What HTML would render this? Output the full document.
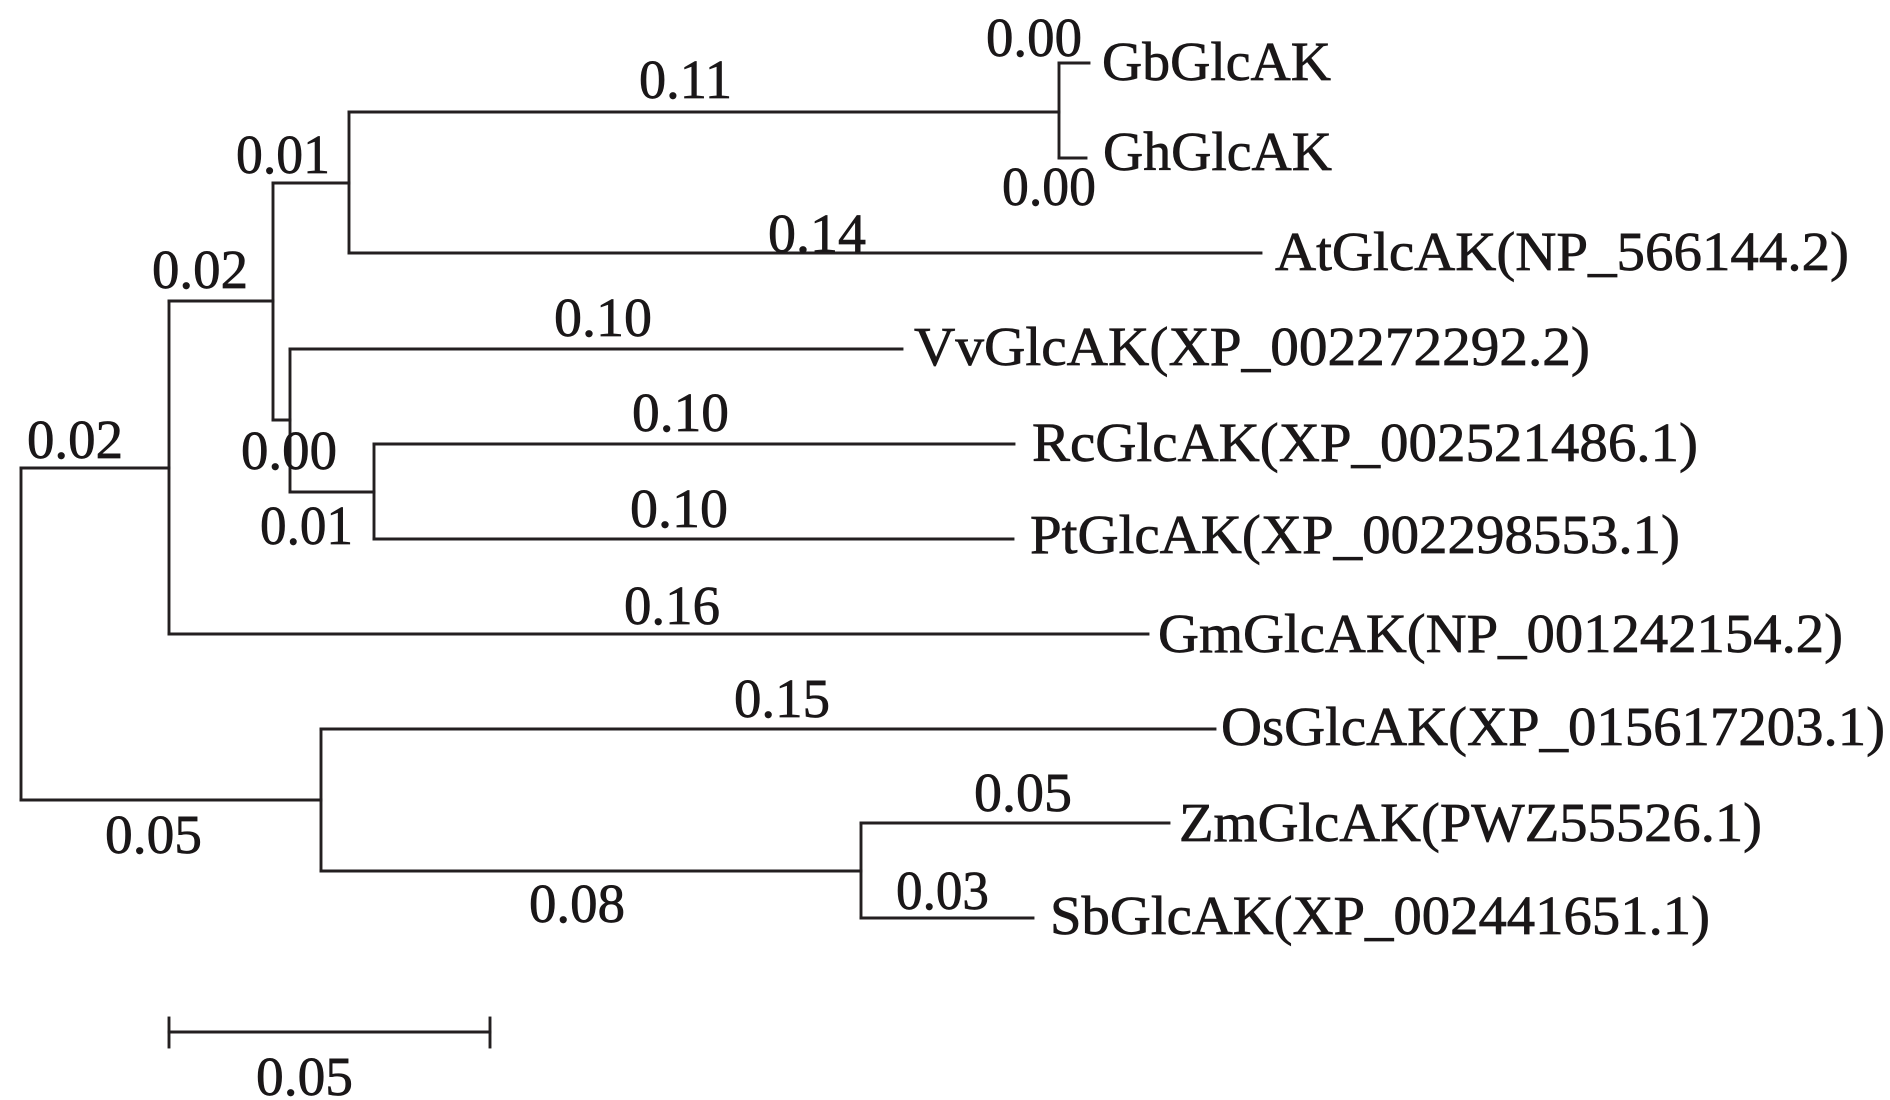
<!DOCTYPE html>
<html>
<head>
<meta charset="utf-8">
<style>
html,body{margin:0;padding:0;background:#fff;}
svg{display:block;}
text{font-family:"Liberation Serif","Times New Roman",serif;font-size:55px;fill:#1a1718;stroke:#1a1718;stroke-width:0.7px;}
</style>
</head>
<body>
<svg width="1890" height="1100" viewBox="0 0 1890 1100" xmlns="http://www.w3.org/2000/svg">
<g stroke="#231f20" stroke-width="2.9" fill="none" stroke-linecap="square">
  <!-- root -->
  <line x1="21" y1="468" x2="21" y2="800"/>
  <line x1="21" y1="468" x2="169" y2="468"/>
  <line x1="21" y1="800" x2="321" y2="800"/>
  <!-- node A -->
  <line x1="169" y1="301" x2="169" y2="634"/>
  <line x1="169" y1="301" x2="273" y2="301"/>
  <line x1="169" y1="634" x2="1148" y2="634"/>
  <!-- node B -->
  <line x1="273" y1="183" x2="273" y2="420"/>
  <line x1="273" y1="183" x2="349" y2="183"/>
  <line x1="273" y1="420" x2="290" y2="420"/>
  <!-- node C -->
  <line x1="349" y1="112" x2="349" y2="253"/>
  <line x1="349" y1="112" x2="1059" y2="112"/>
  <line x1="349" y1="253" x2="1261" y2="253"/>
  <!-- node D Gb/Gh -->
  <line x1="1059" y1="63" x2="1059" y2="158"/>
  <line x1="1059" y1="63" x2="1089" y2="63"/>
  <line x1="1059" y1="158" x2="1086" y2="158"/>
  <!-- node E -->
  <line x1="290" y1="349" x2="290" y2="492"/>
  <line x1="290" y1="349" x2="902" y2="349"/>
  <line x1="290" y1="492" x2="374" y2="492"/>
  <!-- node F -->
  <line x1="374" y1="444" x2="374" y2="539"/>
  <line x1="374" y1="444" x2="1014" y2="444"/>
  <line x1="374" y1="539" x2="1013" y2="539"/>
  <!-- node G -->
  <line x1="321" y1="729" x2="321" y2="871"/>
  <line x1="321" y1="729" x2="1215" y2="729"/>
  <line x1="321" y1="871" x2="861" y2="871"/>
  <!-- node H -->
  <line x1="861" y1="823" x2="861" y2="918"/>
  <line x1="861" y1="823" x2="1169" y2="823"/>
  <line x1="861" y1="918" x2="1033" y2="918"/>
  <!-- scale bar -->
  <line x1="169" y1="1032" x2="490" y2="1032"/>
  <line x1="169" y1="1018" x2="169" y2="1047"/>
  <line x1="490" y1="1018" x2="490" y2="1047"/>
</g>
<g>
  <!-- branch lengths -->
  <text x="639" y="98" textLength="93" lengthAdjust="spacingAndGlyphs">0.11</text>
  <text x="236" y="173" textLength="94" lengthAdjust="spacingAndGlyphs">0.01</text>
  <text x="768" y="252" textLength="98" lengthAdjust="spacingAndGlyphs">0.14</text>
  <text x="152" y="288" textLength="96" lengthAdjust="spacingAndGlyphs">0.02</text>
  <text x="554" y="336" textLength="98" lengthAdjust="spacingAndGlyphs">0.10</text>
  <text x="632" y="431" textLength="97" lengthAdjust="spacingAndGlyphs">0.10</text>
  <text x="241" y="469" textLength="96" lengthAdjust="spacingAndGlyphs">0.00</text>
  <text x="27" y="458" textLength="96" lengthAdjust="spacingAndGlyphs">0.02</text>
  <text x="630" y="527" textLength="98" lengthAdjust="spacingAndGlyphs">0.10</text>
  <text x="260" y="544" textLength="93" lengthAdjust="spacingAndGlyphs">0.01</text>
  <text x="986" y="56" textLength="96" lengthAdjust="spacingAndGlyphs">0.00</text>
  <text x="1002" y="205" textLength="94" lengthAdjust="spacingAndGlyphs">0.00</text>
  <text x="624" y="624" textLength="96" lengthAdjust="spacingAndGlyphs">0.16</text>
  <text x="734" y="717" textLength="96" lengthAdjust="spacingAndGlyphs">0.15</text>
  <text x="105" y="853" textLength="97" lengthAdjust="spacingAndGlyphs">0.05</text>
  <text x="529" y="922" textLength="96" lengthAdjust="spacingAndGlyphs">0.08</text>
  <text x="974" y="811" textLength="98" lengthAdjust="spacingAndGlyphs">0.05</text>
  <text x="896" y="909" textLength="93" lengthAdjust="spacingAndGlyphs">0.03</text>
  <text x="256" y="1095" textLength="97" lengthAdjust="spacingAndGlyphs">0.05</text>
  <!-- taxa -->
  <text x="1102" y="80" textLength="229" lengthAdjust="spacingAndGlyphs">GbGlcAK</text>
  <text x="1103" y="170" textLength="229" lengthAdjust="spacingAndGlyphs">GhGlcAK</text>
  <text x="1275" y="270" textLength="574" lengthAdjust="spacingAndGlyphs">AtGlcAK(NP_566144.2)</text>
  <text x="914" y="365" textLength="676" lengthAdjust="spacingAndGlyphs">VvGlcAK(XP_002272292.2)</text>
  <text x="1032" y="461" textLength="666" lengthAdjust="spacingAndGlyphs">RcGlcAK(XP_002521486.1)</text>
  <text x="1030" y="553" textLength="650" lengthAdjust="spacingAndGlyphs">PtGlcAK(XP_002298553.1)</text>
  <text x="1158" y="652" textLength="685" lengthAdjust="spacingAndGlyphs">GmGlcAK(NP_001242154.2)</text>
  <text x="1221" y="745" textLength="664" lengthAdjust="spacingAndGlyphs">OsGlcAK(XP_015617203.1)</text>
  <text x="1179" y="841" textLength="583" lengthAdjust="spacingAndGlyphs">ZmGlcAK(PWZ55526.1)</text>
  <text x="1050" y="934" textLength="660" lengthAdjust="spacingAndGlyphs">SbGlcAK(XP_002441651.1)</text>
</g>
</svg>
</body>
</html>
